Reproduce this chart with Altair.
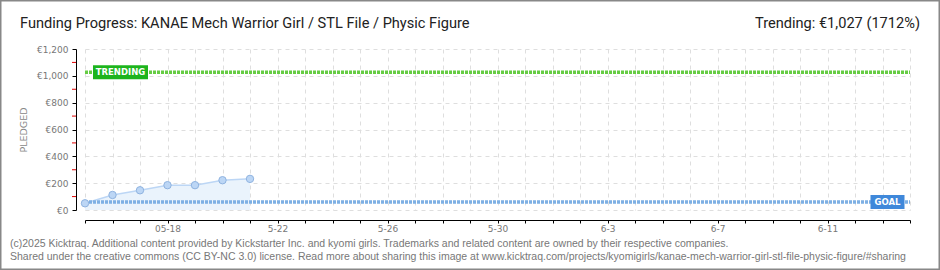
import altair as alt
import pandas as pd

# ---- data ----
day_index = [0, 1, 2, 3, 4, 5, 6]            # 5-15 .. 5-21
pledged = [50, 112, 147, 185, 185, 222, 232]
goal = 60
trending = 1027
n_days = 30
tick_days = [3, 7, 11, 15, 19, 23, 27]
tick_labels = ["05-18", "5-22", "5-26", "5-30", "6-3", "6-7", "6-11"]
y_ticks = [0, 200, 400, 600, 800, 1000, 1200]
y_minor = [100, 300, 500, 700, 900, 1100]

title_left = "Funding Progress: KANAE Mech Warrior Girl / STL File / Physic Figure"
title_right = "Trending: €1,027 (1712%)"
footer1 = "(c)2025 Kicktraq. Additional content provided by Kickstarter Inc. and kyomi girls. Trademarks and related content are owned by their respective companies."
footer2 = "Shared under the creative commons (CC BY-NC 3.0) license. Read more about sharing this image at www.kicktraq.com/projects/kyomigirls/kanae-mech-warrior-girl-stl-file-physic-figure/#sharing"

W, H = 825, 161
PAD = {"left": 85, "top": 49, "right": 30, "bottom": 60}

df = pd.DataFrame({"day": day_index, "pledged": pledged})
label_expr = "".join("datum.value == %d ? '%s' : " % (d, l) for d, l in zip(tick_days, tick_labels)) + "''"

xscale = alt.Scale(domain=[0, n_days], nice=False, zero=False)
yscale = alt.Scale(domain=[0, 1200], nice=False)

xaxis = alt.Axis(values=list(range(n_days + 1)), labelExpr=label_expr, title=None,
                 offset=10, domainColor="#000", tickColor="#000", tickSize=3,
                 labelColor="#777", labelFont="DejaVu Sans", labelFontSize=9,
                 labelPadding=1, grid=True, gridColor="#dedede", gridDash=[4, 4],
                 labelFlush=False, labelOverlap=False)
yaxis = alt.Axis(values=y_ticks, labelExpr='"€" + format(datum.value, ",")',
                 title="PLEDGED", titleColor="#888", titleFont="DejaVu Sans",
                 titleFontSize=9.5, titleFontWeight="normal", titlePadding=8,
                 offset=9, domainColor="#000", tickColor="#000", tickSize=4,
                 labelColor="#777", labelFont="DejaVu Sans", labelFontSize=9,
                 labelPadding=4, grid=True, gridColor="#dedede", gridDash=[4, 4],
                 labelOverlap=False)


def X(field):
    return alt.X(field, scale=xscale, axis=xaxis)


def Y(field):
    return alt.Y(field, scale=yscale, axis=yaxis)


base = alt.Chart(df)

area = base.mark_area(color="#eaf3fc", opacity=1).encode(
    x=X("day:Q"), y=Y("pledged:Q"))
line = base.mark_line(color="#bcd6f5", strokeWidth=1.5).encode(
    x=X("day:Q"), y=Y("pledged:Q"))

ref = pd.DataFrame({"goal": [goal], "trending": [trending]})
goal_line = alt.Chart(ref).mark_rule(color="#7eb0e4", strokeWidth=3.5, strokeDash=[3, 1]).encode(
    y=Y("goal:Q"), x=alt.value(0), x2=alt.value(W))
trend_line = alt.Chart(ref).mark_rule(color="#66cc44", strokeWidth=3.5, strokeDash=[3, 1]).encode(
    y=Y("trending:Q"), x=alt.value(0), x2=alt.value(W))

points = base.mark_point(filled=True, size=55, fill="#bcd6f5", stroke="#8fb3e0",
                         strokeWidth=1, opacity=1).encode(
    x=X("day:Q"), y=Y("pledged:Q"))

minor = pd.DataFrame({"v": y_minor})
minor_ticks = alt.Chart(minor).mark_rule(color="#e00000", strokeWidth=1).encode(
    y=Y("v:Q"), x=alt.value(-13), x2=alt.value(-9))


def box(width, height):
    h = height / width
    return "M-1,-%f L1,-%f L1,%f L-1,%f Z" % (h, h, h, h), width ** 2


tpath, tsize = box(55, 14)
trend_box = alt.Chart(ref).mark_point(shape=tpath, size=tsize, filled=True,
                                      fill="#1db41d", opacity=1, strokeWidth=0).encode(
    y=Y("trending:Q"), x=alt.value(35.5))
trend_txt = alt.Chart(ref).mark_text(text="TRENDING", color="white", font="DejaVu Sans",
                                     fontSize=8.5, fontWeight="bold", align="center",
                                     baseline="middle").encode(
    y=Y("trending:Q"), x=alt.value(35.5))

gpath, gsize = box(34, 14)
goal_box = alt.Chart(ref).mark_point(shape=gpath, size=gsize, filled=True,
                                     fill="#3f88da", opacity=1, strokeWidth=0).encode(
    y=Y("goal:Q"), x=alt.value(802.5))
goal_txt = alt.Chart(ref).mark_text(text="GOAL", color="white", font="DejaVu Sans",
                                    fontSize=8.5, fontWeight="bold", align="center",
                                    baseline="middle").encode(
    y=Y("goal:Q"), x=alt.value(802.5))

one = pd.DataFrame({"a": [0]})
t_left = alt.Chart(one).mark_text(text=title_left, font="Roboto", fontSize=14.6,
                                  color="#222", align="left", baseline="alphabetic").encode(
    x=alt.value(-65), y=alt.value(-21))
t_right = alt.Chart(one).mark_text(text=title_right, font="Roboto", fontSize=14.6,
                                   color="#222", align="right", baseline="alphabetic").encode(
    x=alt.value(835), y=alt.value(-21))
f1 = alt.Chart(one).mark_text(text=footer1, font="Liberation Sans", fontSize=10.5,
                              color="#777", align="left", baseline="alphabetic").encode(
    x=alt.value(-75), y=alt.value(198))
f2 = alt.Chart(one).mark_text(text=footer2, font="Liberation Sans", fontSize=10.5,
                              color="#777", align="left", baseline="alphabetic").encode(
    x=alt.value(-75), y=alt.value(211))
border = alt.Chart(one).mark_rect(fill=None, filled=False, stroke="#888", strokeWidth=1.5).encode(
    x=alt.value(-84.25), x2=alt.value(854.25), y=alt.value(-48.25), y2=alt.value(220.25))

chart = alt.layer(
    area, line, goal_line, trend_line, points, minor_ticks,
    trend_box, trend_txt, goal_box, goal_txt,
    t_left, t_right, f1, f2, border
).properties(
    width=W, height=H,
    autosize=alt.AutoSizeParams(type="none"),
    padding=PAD,
    background="white",
).configure_view(stroke=None).configure_axis(labelOverlap=False)

chart.save("out.html", embed_options={"renderer": "svg", "actions": False})
